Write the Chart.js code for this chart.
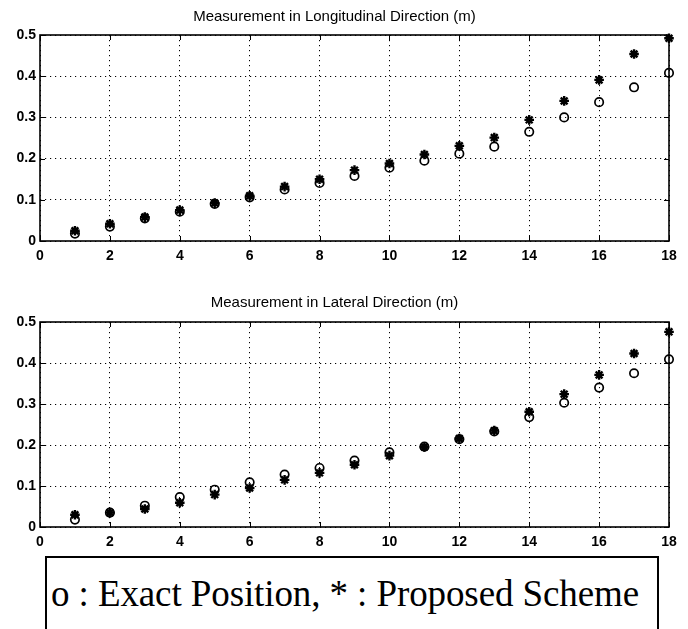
<!DOCTYPE html>
<html>
<head>
<meta charset="utf-8">
<script src="https://cdn.jsdelivr.net/npm/chart.js@4"></script>
<style>
  html, body { margin: 0; padding: 0; background: #fff; }
  body { width: 688px; height: 629px; position: relative; overflow: hidden; }
  .wrap { position: absolute; left: 0; width: 688px; }
  #legendBox {
    position: absolute; left: 45px; top: 556px; width: 614px; height: 120px;
    border: 2px solid #000; border-bottom: none; box-sizing: border-box;
    font-family: "Liberation Serif", "Times New Roman", serif; font-size: 37px;
    color: #000; white-space: nowrap;
  }
  #legendBox span { position: absolute; left: 4px; top: 17px; line-height: 1; letter-spacing: -0.1px; }
</style>
</head>
<body>
<div class="wrap" style="top:0;height:265px;"><canvas id="c1" width="688" height="265"></canvas></div>
<div class="wrap" style="top:265px;height:290px;"><canvas id="c2" width="688" height="290"></canvas></div>
<div id="legendBox"><span>o : Exact Position, * : Proposed Scheme</span></div>
<script>
// ---- data ----
const positions = [1, 2, 3, 4, 5, 6, 7, 8, 9, 10, 11, 12, 13, 14, 15, 16, 17, 18];
const longExact    = [0.018, 0.035, 0.055, 0.071, 0.090, 0.106, 0.125, 0.141, 0.158, 0.178, 0.195, 0.212, 0.229, 0.265, 0.300, 0.337, 0.373, 0.408];
const longProposed = [0.025, 0.042, 0.058, 0.075, 0.092, 0.110, 0.132, 0.150, 0.172, 0.188, 0.210, 0.231, 0.251, 0.294, 0.340, 0.391, 0.454, 0.492];
const latExact     = [0.018, 0.035, 0.052, 0.073, 0.091, 0.109, 0.128, 0.144, 0.162, 0.182, 0.196, 0.214, 0.233, 0.268, 0.303, 0.340, 0.375, 0.409];
const latProposed  = [0.030, 0.035, 0.044, 0.059, 0.079, 0.095, 0.115, 0.132, 0.152, 0.174, 0.195, 0.216, 0.235, 0.281, 0.324, 0.371, 0.423, 0.476];
const xTicks = [0, 2, 4, 6, 8, 10, 12, 14, 16, 18];
const yTicks = [0, 0.1, 0.2, 0.3, 0.4, 0.5];
const titleTop = "Measurement in Longitudinal Direction (m)";
const titleBottom = "Measurement in Lateral Direction (m)";

const toPts = (xs, ys) => xs.map((x, i) => ({ x: x, y: ys[i] }));

const boxPlugin = {
  id: 'matlabBox',
  afterDraw(chart) {
    const { ctx, chartArea: a, scales } = chart;
    ctx.save();
    ctx.strokeStyle = '#000';
    ctx.lineWidth = 1;
    const L = 5;
    ctx.beginPath();
    xTicks.forEach(v => {
      const px = Math.round(scales.x.getPixelForValue(v)) + 0.5;
      ctx.moveTo(px, a.bottom); ctx.lineTo(px, a.bottom - L);
      ctx.moveTo(px, a.top); ctx.lineTo(px, a.top + L);
    });
    yTicks.forEach(v => {
      const py = Math.round(scales.y.getPixelForValue(v)) + 0.5;
      ctx.moveTo(a.left, py); ctx.lineTo(a.left + L, py);
      ctx.moveTo(a.right, py); ctx.lineTo(a.right - L, py);
    });
    ctx.stroke();
    ctx.lineWidth = 1.6;
    ctx.strokeRect(a.left, a.top, a.right - a.left, a.bottom - a.top);
    ctx.restore();
  }
};

const tickFont = { family: "'Liberation Sans', Arial, sans-serif", size: 14, weight: 'bold' };

function makeChart(id, title, exact, proposed, titlePad, xAxisH) {
  return new Chart(document.getElementById(id), {
    type: 'scatter',
    data: {
      datasets: [
        { label: 'Exact Position', data: toPts(positions, exact), pointStyle: 'circle',
          pointRadius: 4.2, pointBorderWidth: 1.7, borderColor: '#000',
          backgroundColor: 'rgba(0,0,0,0)', showLine: false, clip: false },
        { label: 'Proposed Scheme', data: toPts(positions, proposed), pointStyle: 'star',
          pointRadius: 4.8, pointBorderWidth: 2.4, borderColor: '#000',
          backgroundColor: '#000', showLine: false, clip: false }
      ]
    },
    options: {
      responsive: false,
      animation: false,
      devicePixelRatio: 1,
      layout: { padding: { left: 0, right: 19, top: 0, bottom: 0 } },
      plugins: {
        legend: { display: false },
        tooltip: { enabled: false },
        title: {
          display: true, text: title, color: '#000',
          font: { family: "'Liberation Sans', Arial, sans-serif", size: 15, weight: 'normal', lineHeight: 1.2 },
          padding: titlePad
        }
      },
      scales: {
        x: {
          type: 'linear', min: 0, max: 18,
          afterBuildTicks: s => { s.ticks = xTicks.map(v => ({ value: v })); },
          afterFit: s => { s.height = xAxisH; },
          ticks: { color: '#000', padding: 7, maxRotation: 0, font: tickFont },
          grid: { color: '#000', lineWidth: 1, drawTicks: false },
          border: { display: false, dash: [1.2, 3.8] }
        },
        y: {
          type: 'linear', min: 0, max: 0.5,
          afterBuildTicks: s => { s.ticks = yTicks.map(v => ({ value: v })); },
          afterFit: s => { s.width = 40; },
          ticks: { color: '#000', padding: 4,
                   callback: v => String(Math.round(v * 10) / 10), font: tickFont },
          grid: { color: '#000', lineWidth: 1, drawTicks: false },
          border: { display: false, dash: [1.2, 3.8] }
        }
      }
    },
    plugins: [boxPlugin]
  });
}

makeChart('c1', titleTop, longExact, longProposed, { top: 8, bottom: 9 }, 24);
makeChart('c2', titleBottom, latExact, latProposed, { top: 29, bottom: 10 }, 28);
</script>
</body>
</html>
